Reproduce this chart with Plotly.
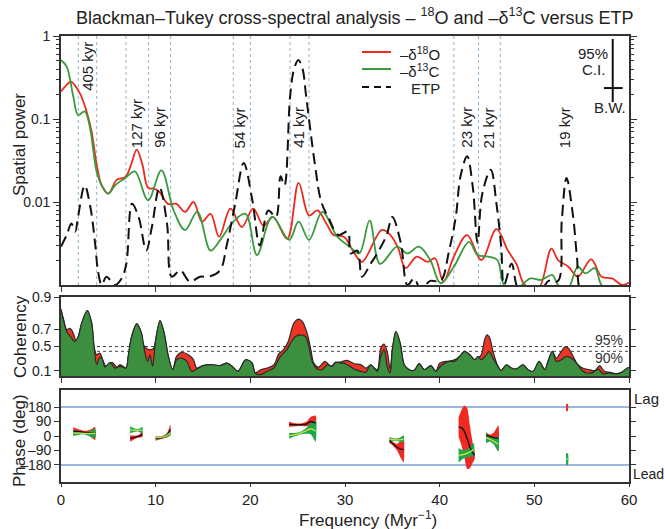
import numpy as np
import plotly.graph_objects as go

FONT = "Liberation Sans, Arial, Helvetica, sans-serif"

# ---------------- Top panel: spectral power ----------------
f_o18 = [0, 0.5, 1.06, 1.5, 2.0, 2.6, 3.2, 3.8,
         4.3, 5.0, 5.9, 6.8, 7.4, 8.0, 8.6, 9.2,
         9.8, 10.4, 11.3, 12.2, 13.1, 14.0, 14.9, 15.8,
         16.7, 17.9, 19.1, 20.3, 21.4, 22.4, 23.9, 25.1,
         26.2, 27.1, 28.0, 28.8, 29.9, 31.0, 31.8, 33.9,
         34.8, 35.6, 36.4, 37.6, 38.7, 39.5, 40.4, 41.5,
         42.9, 44.4, 46.0, 47.2, 48.1, 49.0, 50.4, 51.8,
         52.5, 53.6, 54.6, 56.0, 57.1, 58.2, 59.3, 60]
p_o18 = [0.214, 0.251, 0.282, 0.251, 0.204, 0.135, 0.0741, 0.0269,
         0.0158, 0.0126, 0.0186, 0.0200, 0.0282, 0.0427, 0.0282, 0.0148,
         0.0145, 0.0132, 0.0095, 0.0095, 0.0076, 0.0100, 0.0058, 0.0072,
         0.0038, 0.0083, 0.0050, 0.0083, 0.0052, 0.0066, 0.0036, 0.0170,
         0.0069, 0.0079, 0.0056, 0.0040, 0.0038, 0.0024, 0.0019, 0.0046,
         0.0040, 0.0028, 0.0016, 0.0022, 0.0019, 0.0021, 0.0011, 0.0022,
         0.0040, 0.0020, 0.0047, 0.0026, 0.0018, 0.0010, 0.00089, 0.00275,
         0.0020, 0.00166, 0.00126, 0.00204, 0.00126, 0.0012, 0.0010, 0.00107]

f_c13 = [0, 0.6, 1.3, 1.8, 2.5, 3.1, 3.4, 3.8,
         4.5, 5.0, 5.7, 6.8, 7.8, 9.2, 10.6, 11.9,
         13.1, 14.4, 15.8, 16.9, 18.2, 19.5, 20.7, 22.3,
         24.1, 25.1, 26.2, 27.6, 29.2, 30.5, 31.5, 32.6,
         33.7, 35.5, 36.6, 37.8, 39.0, 40.1, 41.5, 43.1,
         44.0, 45.1, 46.1, 46.8, 48.0, 49.6, 50.7, 51.9,
         52.5, 53.5, 54.6, 55.4, 56.4, 57.1, 58.5, 60]
p_c13 = [0.513, 0.427, 0.186, 0.112, 0.123, 0.0741, 0.0427, 0.0224,
         0.0145, 0.0126, 0.0158, 0.0195, 0.0234, 0.0105, 0.0240, 0.0079,
         0.0046, 0.0076, 0.0026, 0.0036, 0.0058, 0.0072, 0.0023, 0.0066,
         0.0035, 0.0058, 0.0035, 0.0076, 0.0038, 0.0029, 0.0024, 0.0060,
         0.0018, 0.0029, 0.0024, 0.0029, 0.0020, 0.00105, 0.00166, 0.0033,
         0.0023, 0.0022, 0.0020, 0.0010, 0.00089, 0.0012, 0.00115, 0.00132,
         0.0010, 0.00089, 0.00166, 0.00138, 0.0016, 0.0010, 0.0008, 0.0008]

f_etp = [0, 0.6, 1.1, 1.5, 1.8, 2.5, 3.1, 3.6,
         3.9, 4.3, 4.8, 5.7, 6.4, 6.9, 7.5, 8.2,
         9.0, 9.6, 10.4, 11.2, 11.7, 12.6, 13.6, 14.7,
         15.6, 16.8, 17.5, 18.4, 19.3, 20.2, 21.0, 21.9,
         22.7, 23.2, 23.6, 24.2, 24.6, 25.07, 25.5, 25.9,
         26.8, 27.5, 28.3, 29.3, 30.3, 30.6, 31.3, 31.8,
         32.7, 33.4, 34.4, 35.0, 35.9, 36.6, 37.3, 38.0,
         39.0, 40.1, 41.0, 41.7, 42.2, 42.9, 43.5, 44.0,
         44.5, 45.4, 46.0, 46.5, 46.8, 47.6, 48.3, 50.0,
         51.5, 52.5, 52.9, 53.4, 54.1, 54.5, 55.0, 57.0,
         60.0]
p_etp = [0.0029, 0.0040, 0.0055, 0.0044, 0.0066, 0.0158, 0.0087, 0.0032,
         0.0015, 0.0010, 0.00126, 0.0010, 0.0012, 0.0018, 0.0095, 0.0066,
         0.0026, 0.0050, 0.0151, 0.0055, 0.00126, 0.0015, 0.0011, 0.00126,
         0.00126, 0.0015, 0.0030, 0.0095, 0.0295, 0.0107, 0.0030, 0.0079,
         0.0066, 0.0204, 0.0158, 0.186, 0.39, 0.513, 0.41, 0.186,
         0.0295, 0.0100, 0.0063, 0.0040, 0.0044, 0.0024, 0.0026, 0.00126,
         0.0018, 0.0024, 0.0040, 0.0066, 0.0032, 0.0010, 0.0012, 0.00089,
         0.00112, 0.00112, 0.0026, 0.0066, 0.0204, 0.0355, 0.0151, 0.0032,
         0.0126, 0.0245, 0.0095, 0.0029, 0.0010, 0.0018, 0.00089, 0.00063,
         0.00112, 0.00112, 0.0060, 0.0195, 0.0066, 0.0022, 0.0008, 0.00063,
         0.00063]

band_edges = [1.83, 3.77, 6.86, 9.26, 11.58, 18.2, 20.0, 24.2, 26.2, 41.5, 44.1, 46.4]
period_labels = ["405 kyr", "127 kyr", "96 kyr", "54 kyr", "41 kyr", "23 kyr", "21 kyr", "19 kyr"]
period_label_f = [2.78, 7.99, 10.38, 18.9, 25.07, 42.8, 45.2, 53.2]
period_label_base = [0.771, 0.542, 0.542, 0.542, 0.542, 0.542, 0.542, 0.542]

ci_f = [58.28, 58.28]
ci_p = [0.16, 0.92]
bw_f = [57.35, 59.33]
bw_p = [0.236, 0.236]

legend_names = ["\u2013\u03b4<sup>18</sup>O", "\u2013\u03b4<sup>13</sup>C", "ETP"]

# ---------------- Coherency ----------------
cf_c13 = [0, 0.25, 0.6, 1.13, 1.4, 1.83, 2.18, 2.78,
          3.24, 3.49, 3.77, 4.05, 4.3, 4.65, 5.18, 5.7,
          6.23, 6.87, 7.1, 7.46, 8.0, 8.5, 8.87, 9.15,
          9.4, 9.68, 10.0, 10.46, 10.9, 11.34, 11.8, 12.2,
          12.75, 13.3, 13.8, 14.33, 15.0, 16.1, 16.8, 17.5,
          18.0, 18.7, 19.4, 19.65, 20.2, 20.5, 21.06, 21.77,
          22.47, 23.18, 23.89, 24.24, 24.77, 25.3, 25.83, 26.18,
          26.54, 27.07, 27.6, 28.13, 28.66, 29.0, 29.54, 30.07,
          30.95, 31.66, 32.19, 32.72, 33.07, 33.43, 33.78, 34.13,
          34.49, 34.77, 35.0, 35.37, 35.83, 36.25, 36.78, 37.3,
          37.84, 38.37, 39.08, 39.6, 40.14, 40.53, 41.06, 41.58,
          42.1, 42.64, 43.17, 43.7, 44.05, 44.4, 44.93, 45.2,
          45.63, 46.16, 46.5, 47.04, 47.57, 48.1, 48.8, 49.33,
          49.86, 50.5, 51.1, 51.44, 51.9, 52.32, 52.85, 53.38,
          53.9, 54.44, 54.96, 55.5, 56.2, 56.73, 57.25, 57.96,
          58.66, 59.19, 59.82, 60]
c_c13 = [0.846, 0.78, 0.68, 0.607, 0.567, 0.627, 0.755, 0.839,
         0.755, 0.50, 0.207, 0.322, 0.322, 0.165, 0.249, 0.147,
         0.177, 0.147, 0.349, 0.627, 0.75, 0.663, 0.403, 0.265,
         0.376, 0.177, 0.588, 0.775, 0.663, 0.349, 0.117, 0.294,
         0.322, 0.265, 0.087, 0.129, 0.19, 0.207, 0.19, 0.236,
         0.19, 0.087, 0.283, 0.294, 0.236, 0.056, 0.025, 0.087,
         0.147, 0.349, 0.46, 0.546, 0.627, 0.645, 0.627, 0.50,
         0.265, 0.129, 0.117, 0.207, 0.177, 0.249, 0.236, 0.225,
         0.129, 0.087, 0.068, 0.207, 0.147, 0.087, 0.349, 0.452,
         0.147, 0.056, 0.452, 0.68, 0.546, 0.207, 0.117, 0.105,
         0.225, 0.117, 0.19, 0.087, 0.19, 0.236, 0.265, 0.265,
         0.349, 0.428, 0.376, 0.294, 0.349, 0.294, 0.376, 0.428,
         0.322, 0.177, 0.10, 0.207, 0.147, 0.129, 0.207, 0.117,
         0.087, 0.265, 0.117, 0.265, 0.428, 0.265, 0.294, 0.349,
         0.322, 0.236, 0.117, 0.056, 0.068, 0.129, 0.043, 0.056,
         0.037, 0.068, 0.147, 0.16]

cf_o18 = [0, 0.25, 0.6, 0.95, 1.3, 1.6, 1.83, 2.18,
          2.78, 3.24, 3.49, 3.77, 4.1, 4.48, 4.8, 5.4,
          5.9, 6.23, 6.87, 7.1, 7.46, 8.0, 8.5, 8.7,
          9.0, 9.4, 9.8, 10.0, 10.46, 10.9, 11.34, 11.8,
          12.2, 12.75, 13.45, 14.0, 14.33, 15.0, 16.1, 16.8,
          17.5, 18.0, 18.7, 19.4, 19.65, 20.2, 20.5, 21.1,
          21.8, 22.5, 23.0, 23.5, 24.0, 24.6, 25.1, 25.5,
          26.0, 26.4, 26.7, 27.2, 27.9, 28.5, 29.0, 29.5,
          30.2, 31.0, 31.7, 32.2, 32.72, 33.07, 33.43, 33.78,
          34.13, 34.49, 34.77, 35.0, 35.37, 35.83, 36.25, 36.78,
          37.3, 37.84, 38.37, 39.08, 39.6, 40.0, 40.7, 41.4,
          41.8, 42.1, 42.64, 43.17, 43.7, 44.05, 44.4, 44.75,
          45.0, 45.3, 45.63, 46.16, 46.5, 47.04, 47.57, 48.1,
          48.8, 49.33, 49.86, 50.5, 51.1, 51.44, 51.9, 52.32,
          52.85, 53.2, 53.6, 54.1, 54.6, 55.1, 55.8, 56.4,
          56.9, 57.4, 58.0, 58.7, 59.3, 60]
c_o18 = [0.846, 0.79, 0.70, 0.71, 0.663, 0.567, 0.627, 0.755,
         0.839, 0.755, 0.50, 0.376, 0.403, 0.265, 0.165, 0.249,
         0.165, 0.21, 0.147, 0.349, 0.627, 0.75, 0.663, 0.523,
         0.477, 0.452, 0.477, 0.588, 0.775, 0.663, 0.349, 0.117,
         0.349, 0.415, 0.376, 0.294, 0.147, 0.19, 0.207, 0.19,
         0.236, 0.19, 0.087, 0.283, 0.294, 0.236, 0.056, 0.117,
         0.147, 0.207, 0.39, 0.452, 0.567, 0.755, 0.785, 0.767,
         0.663, 0.452, 0.236, 0.165, 0.265, 0.177, 0.249, 0.254,
         0.283, 0.225, 0.207, 0.147, 0.207, 0.147, 0.117, 0.477,
         0.532, 0.403, 0.117, 0.452, 0.68, 0.546, 0.207, 0.117,
         0.105, 0.225, 0.117, 0.19, 0.087, 0.236, 0.265, 0.283,
         0.31, 0.349, 0.428, 0.376, 0.294, 0.322, 0.376, 0.588,
         0.645, 0.607, 0.428, 0.177, 0.10, 0.207, 0.147, 0.129,
         0.207, 0.117, 0.068, 0.265, 0.117, 0.265, 0.428, 0.322,
         0.428, 0.491, 0.477, 0.349, 0.207, 0.147, 0.117, 0.10,
         0.19, 0.087, 0.068, 0.043, 0.068, 0.16]

coh_ticks = [0.1, 0.5, 0.7, 0.9]
coh_levels = [0.5, 0.43]
coh_level_labels = ["95%", "90%"]

# ---------------- Phase ----------------
ph_o18_f = [[1.3, 1.9, 2.5, 3.1, 3.6], [7.3, 7.8, 8.2, 8.6], [10.0, 10.5, 11.0, 11.3, 11.55],
            [24.1, 24.7, 25.3, 25.9, 26.4, 26.9], [34.7, 35.1, 35.5, 35.9, 36.2],
            [42.0, 42.3, 42.6, 42.9, 43.2, 43.5, 43.7], [44.9, 45.3, 45.7, 46.2], [53.35, 53.55]]
ph_o18_c = [[30, 27, 22, 17, 15], [-15, -8, -2, 10], [-17, -12, -2, 12, 40],
            [72, 70, 70, 74, 90, 80], [-30, -50, -70, -82, -85],
            [55, 52, 30, -15, -70, -105, -120], [5, -2, -10, -15], [177, 177]]
ph_o18_w = [[24, 14, 10, 22, 40], [20, 10, 8, 16], [12, 8, 10, 18, 32],
            [16, 10, 8, 14, 30, 47], [14, 12, 20, 55, 80],
            [60, 110, 160, 190, 130, 60, 25], [18, 10, 30, 80], [22, 22]]

ph_c13_f = [[1.3, 1.9, 2.5, 3.1, 3.6], [7.3, 7.8, 8.2, 8.6], [10.0, 10.5, 11.0, 11.3, 11.55],
            [24.1, 24.7, 25.3, 25.9, 26.4, 26.9], [34.7, 35.1, 35.5, 35.9, 36.2],
            [42.0, 42.5, 43.0, 43.6], [44.9, 45.3, 45.7, 46.2], [53.35, 53.55]]
ph_c13_c = [[18, 18, 16, 15, 15], [38, 36, 35, 36], [-12, -9, -2, 8, 20],
            [2, 8, 18, 32, 45, 30], [-20, -22, -24, -22, -18],
            [-120, -115, -105, -85], [-11, -20, -32, -50], [-144, -144]]
ph_c13_w = [[18, 10, 6, 18, 30], [22, 10, 8, 20], [10, 6, 8, 12, 18],
            [18, 10, 8, 18, 35, 65], [14, 8, 8, 14, 22],
            [45, 25, 25, 40], [34, 14, 20, 46], [36, 36]]

phase_ticks = [-180, -90, 0, 90, 180]
phase_ticktext = ["\u2013180", "\u201390", "0", "90", "180"]
phase_ref = [180, -180]

for a, b in [(f_o18, p_o18), (f_c13, p_c13), (f_etp, p_etp), (cf_c13, c_c13), (cf_o18, c_o18)]:
    assert len(a) == len(b), (len(a), len(b))

RED = "#ec2a1e"
GREEN = "#3b9a3e"
COH_RED = "#ef3424"
COH_GREEN = "#3c8f3f"
PH_RED = "#f02a22"
PH_GREEN = "#19a84a"

fig = go.Figure()

# spectra
fig.add_trace(go.Scatter(x=f_o18, y=p_o18, mode="lines", name=legend_names[0], showlegend=False,
                         line=dict(color=RED, width=1.8, shape="spline", smoothing=1.0),
                         xaxis="x", yaxis="y"))
fig.add_trace(go.Scatter(x=f_c13, y=p_c13, mode="lines", name=legend_names[1], showlegend=False,
                         line=dict(color=GREEN, width=1.8, shape="spline", smoothing=1.0),
                         xaxis="x", yaxis="y"))
fig.add_trace(go.Scatter(x=f_etp, y=p_etp, mode="lines", name=legend_names[2], showlegend=False,
                         line=dict(color="#111", width=2, dash="11px,6px", shape="spline", smoothing=1.0),
                         xaxis="x", yaxis="y"))
# CI / BW bar
fig.add_trace(go.Scatter(x=ci_f, y=ci_p, mode="lines", showlegend=False,
                         line=dict(color="#111", width=2), xaxis="x", yaxis="y"))
fig.add_trace(go.Scatter(x=bw_f, y=bw_p, mode="lines", showlegend=False,
                         line=dict(color="#111", width=2), xaxis="x", yaxis="y"))

# coherency
fig.add_trace(go.Scatter(x=cf_o18, y=np.arctanh(c_o18), mode="lines", fill="tozeroy",
                         fillcolor=COH_RED, showlegend=False,
                         line=dict(color="#2a2a2a", width=1.2, shape="spline", smoothing=0.8),
                         xaxis="x2", yaxis="y2"))
fig.add_trace(go.Scatter(x=cf_c13, y=np.arctanh(c_c13), mode="lines", fill="tozeroy",
                         fillcolor=COH_GREEN, showlegend=False,
                         line=dict(color="#2a2a2a", width=1.2, shape="spline", smoothing=0.8),
                         xaxis="x2", yaxis="y2"))


# phase bands
def band(fl, cl, wl, color):
    up = [c + w for c, w in zip(cl, wl)]
    lo = [c - w for c, w in zip(cl, wl)]
    return go.Scatter(x=fl + fl[::-1], y=up + lo[::-1], mode="lines", fill="toself",
                      fillcolor=color, line=dict(width=0, color=color, shape="spline", smoothing=0.6),
                      showlegend=False, hoverinfo="skip", xaxis="x3", yaxis="y3")


for fl, cl, wl in zip(ph_o18_f, ph_o18_c, ph_o18_w):
    fig.add_trace(band(fl, cl, wl, PH_RED))
for fl, cl, wl in zip(ph_c13_f, ph_c13_c, ph_c13_w):
    fig.add_trace(band(fl, cl, wl, PH_GREEN))
for fl, cl in zip(ph_o18_f[:-1], ph_o18_c[:-1]):
    fig.add_trace(go.Scatter(x=fl, y=cl, mode="lines", showlegend=False,
                             line=dict(color="#111", width=1.3, shape="spline"),
                             xaxis="x3", yaxis="y3"))
for fl, cl in zip(ph_c13_f, ph_c13_c):
    fig.add_trace(go.Scatter(x=fl, y=cl, mode="lines", showlegend=False,
                             line=dict(color="#cfdc4a", width=1.3, shape="spline"),
                             xaxis="x3", yaxis="y3"))

# ---------------- Layout ----------------
W, H = 665, 529
ML, MR, MT, MB = 61, 36, 36, 47
PW, PH = W - ML - MR, H - MT - MB


def py(px):  # pixel y -> paper y
    return (H - MB - px) / PH


def pxx(px):  # pixel x -> paper x
    return (px - ML) / PW


top_dom = [py(285), 1.0]
coh_dom = [py(376), py(297)]
ph_dom = [0.0, py(390)]

axis_common = dict(showgrid=False, zeroline=False, showline=True, linecolor="#333", linewidth=1.6,
                   ticks="outside", tickcolor="#333", tickwidth=1.2)
xt = dict(range=[0, 60], tickvals=[0, 10, 20, 30, 40, 50, 60], mirror=True, **axis_common)

minor_vals = [m * 10.0 ** e for e in (-3, -2, -1) for m in range(2, 10)]

shapes = []
for e in band_edges:
    shapes.append(dict(type="line", xref="x", yref="y domain", x0=e, x1=e, y0=0, y1=1,
                       line=dict(color="#8fb2cf", width=1, dash="dot"), layer="below"))
for lv in coh_levels:
    shapes.append(dict(type="line", xref="x2 domain", yref="y2", x0=0, x1=1,
                       y0=float(np.arctanh(lv)), y1=float(np.arctanh(lv)),
                       line=dict(color="#444", width=1, dash="dot"), layer="below"))
for r in phase_ref:
    shapes.append(dict(type="line", xref="x3 domain", yref="y3", x0=0, x1=1, y0=r, y1=r,
                       line=dict(color="#7b9fd2", width=1.6), layer="below"))

# manual legend
leg_y = [52, 69, 87]
leg_style = [dict(color=RED, width=2), dict(color=GREEN, width=2), dict(color="#111", width=2, dash="7px,5px")]
leg_text_x = [398, 398, 409]
for yy, st in zip(leg_y, leg_style):
    shapes.append(dict(type="line", xref="paper", yref="paper", x0=pxx(362), x1=pxx(391),
                       y0=py(yy), y1=py(yy), line=st))

ann = []
for name, yy, tx in zip(legend_names, leg_y, leg_text_x):
    ann.append(dict(text=name, x=pxx(tx), y=py(yy + 1), xref="paper", yref="paper", showarrow=False,
                    xanchor="left", yanchor="middle", font=dict(size=15, color="#222", family=FONT)))
for lab, fx, yb in zip(period_labels, period_label_f, period_label_base):
    ann.append(dict(text=lab, x=fx, xref="x", y=yb, yref="y domain", textangle=-90,
                    xanchor="center", yanchor="bottom", showarrow=False,
                    font=dict(size=15, color="#222", family=FONT)))
ann += [
    dict(text="Blackman\u2013Tukey cross-spectral analysis \u2013 <sup>18</sup>O and \u2013\u03b4<sup>13</sup>C versus ETP",
         x=pxx(355), y=py(17), xref="paper", yref="paper", showarrow=False,
         xanchor="center", yanchor="middle", font=dict(size=18, color="#222", family=FONT)),
    dict(text="95%", x=pxx(610), y=py(53), xref="paper", yref="paper", showarrow=False,
         xanchor="right", yanchor="middle", font=dict(size=15, color="#222", family=FONT)),
    dict(text="C.I.", x=pxx(607), y=py(69), xref="paper", yref="paper", showarrow=False,
         xanchor="right", yanchor="middle", font=dict(size=15, color="#222", family=FONT)),
    dict(text="B.W.", x=pxx(610), y=py(107), xref="paper", yref="paper", showarrow=False,
         xanchor="center", yanchor="middle", font=dict(size=15, color="#222", family=FONT)),
    dict(text="Spatial power", x=pxx(19), y=py(145), xref="paper", yref="paper", showarrow=False,
         textangle=-90, xanchor="center", yanchor="middle", font=dict(size=17, color="#222", family=FONT)),
    dict(text="Coherency", x=pxx(20), y=py(337), xref="paper", yref="paper", showarrow=False,
         textangle=-90, xanchor="center", yanchor="middle", font=dict(size=17, color="#222", family=FONT)),
    dict(text="Phase (deg)", x=pxx(19), y=py(441), xref="paper", yref="paper", showarrow=False,
         textangle=-90, xanchor="center", yanchor="middle", font=dict(size=17, color="#222", family=FONT)),
    dict(text="Frequency (Myr<sup>\u22121</sup>)", x=pxx(368), y=py(519), xref="paper", yref="paper",
         showarrow=False, xanchor="center", yanchor="middle", font=dict(size=17, color="#222", family=FONT)),
    dict(text="Lag", x=pxx(632), y=py(398), xref="paper", yref="paper", showarrow=False,
         xanchor="left", yanchor="middle", font=dict(size=15, color="#222", family=FONT)),
    dict(text="Lead", x=pxx(631), y=py(474), xref="paper", yref="paper", showarrow=False,
         xanchor="left", yanchor="middle", font=dict(size=14, color="#222", family=FONT)),
]
for lab, yy in zip(coh_level_labels, [340, 358]):
    ann.append(dict(text=lab, x=pxx(625), y=py(yy), xref="paper", yref="paper", showarrow=False,
                    xanchor="right", yanchor="middle", font=dict(size=14, color="#333", family=FONT)))

fig.update_layout(
    width=W, height=H, margin=dict(l=ML, r=MR, t=MT, b=MB, pad=0),
    paper_bgcolor="white", plot_bgcolor="white",
    font=dict(family=FONT, size=13, color="#222"),
    showlegend=False,
    xaxis=dict(domain=[0, 1], anchor="y", showticklabels=False, ticklen=5, **xt),
    yaxis=dict(domain=top_dom, anchor="x", type="log", range=[-3, 0],
               tickvals=[0.01, 0.1, 1], ticktext=["0.01", "0.1", "1"], ticklen=6, mirror="ticks",
               tickfont=dict(size=14),
               minor=dict(tickvals=minor_vals, ticklen=3, ticks="outside", tickcolor="#333", showgrid=False),
               **axis_common),
    xaxis2=dict(domain=[0, 1], anchor="y2", showticklabels=False, ticklen=5, **xt),
    yaxis2=dict(domain=coh_dom, anchor="x2", range=[0, float(np.arctanh(0.9))],
                tickvals=[float(v) for v in np.arctanh(coh_ticks)], ticktext=[str(v) for v in coh_ticks],
                ticklen=5, mirror="ticks", tickfont=dict(size=14), **axis_common),
    xaxis3=dict(domain=[0, 1], anchor="y3", showticklabels=True, ticklen=3, tickfont=dict(size=15), **xt),
    yaxis3=dict(domain=ph_dom, anchor="x3", range=[-286, 286], tickvals=phase_ticks,
                ticktext=phase_ticktext, ticklen=5, mirror="ticks", tickfont=dict(size=14), **axis_common),
    shapes=shapes, annotations=ann,
)

fig.write_html("out.html")
